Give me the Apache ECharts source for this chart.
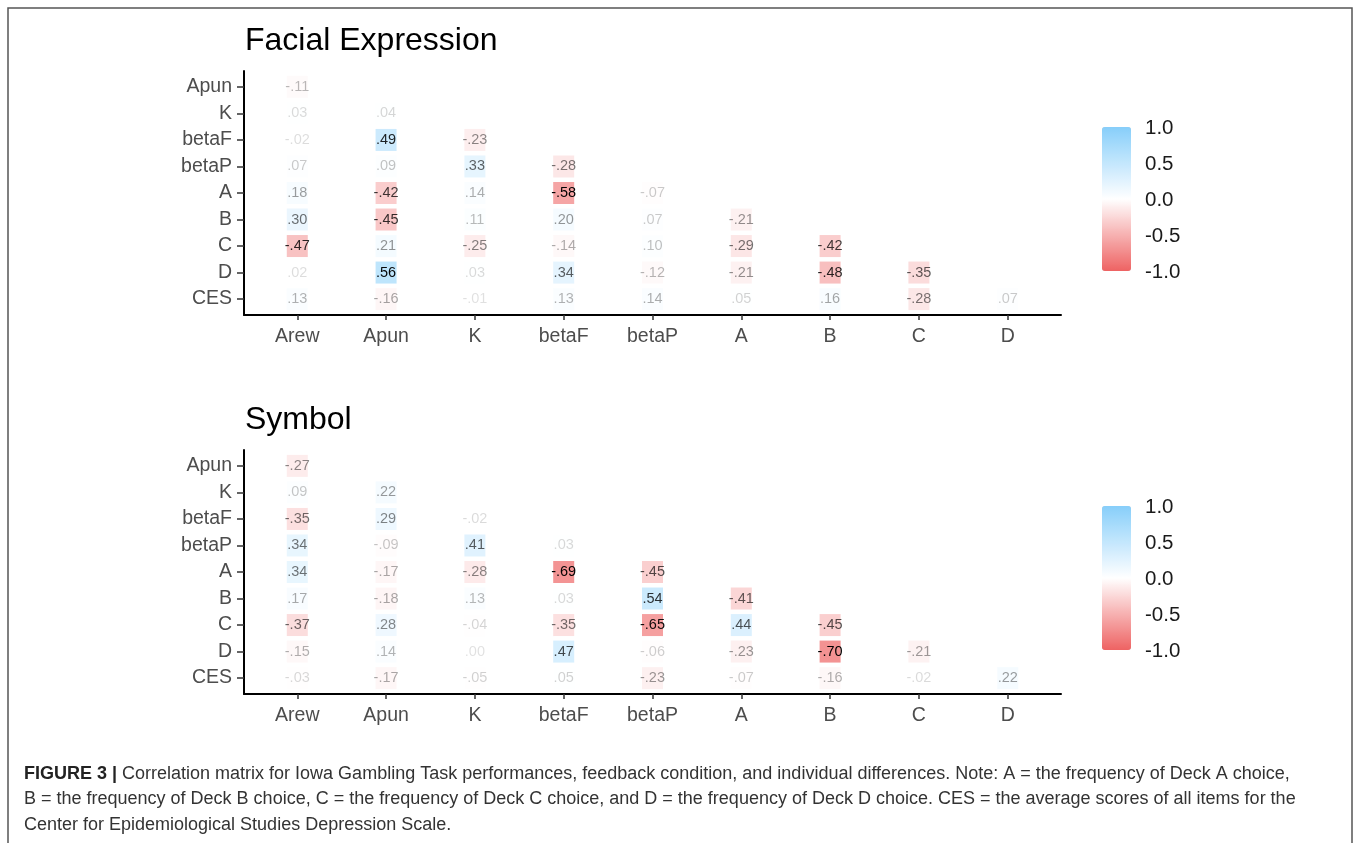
<!DOCTYPE html>
<html>
<head>
<meta charset="utf-8">
<script src="https://cdn.jsdelivr.net/npm/echarts@6/dist/echarts.min.js"></script>
<style>
  html, body { margin: 0; padding: 0; background: #fff; }
  #corrChart { width: 1358px; height: 843px; }
</style>
</head>
<body>
<div id="corrChart"></div>
<script>
// columns (x) and rows (y) of the lower triangle
var colLabels = ['Arew', 'Apun', 'K', 'betaF', 'betaP', 'A', 'B', 'C', 'D'];
var rowLabels = ['Apun', 'K', 'betaF', 'betaP', 'A', 'B', 'C', 'D', 'CES'];
var legendTicks = [1.0, 0.5, 0.0, -0.5, -1.0];

// Facial Expression, row by row (row i has i+1 values)
var facialValues = [
    [-0.11],
    [0.03, 0.04],
    [-0.02, 0.49, -0.23],
    [0.07, 0.09, 0.33, -0.28],
    [0.18, -0.42, 0.14, -0.58, -0.07],
    [0.30, -0.45, 0.11, 0.20, 0.07, -0.21],
    [-0.47, 0.21, -0.25, -0.14, 0.10, -0.29, -0.42],
    [0.02, 0.56, 0.03, 0.34, -0.12, -0.21, -0.48, -0.35],
    [0.13, -0.16, -0.01, 0.13, 0.14, 0.05, 0.16, -0.28, 0.07]
];

// Symbol
var symbolValues = [
    [-0.27],
    [0.09, 0.22],
    [-0.35, 0.29, -0.02],
    [0.34, -0.09, 0.41, 0.03],
    [0.34, -0.17, -0.28, -0.69, -0.45],
    [0.17, -0.18, 0.13, 0.03, 0.54, -0.41],
    [-0.37, 0.28, -0.04, -0.35, -0.65, 0.44, -0.45],
    [-0.15, 0.14, 0.00, 0.47, -0.06, -0.23, -0.70, -0.21],
    [-0.03, -0.17, -0.05, 0.05, -0.23, -0.07, -0.16, -0.02, 0.22]
];

var FONT = 'Liberation Sans, Arial, sans-serif';
var lowColor = '#EE6363', midColor = '#FFFFFF', highColor = '#87CEFA';

function fmt(v) {
    return v.toFixed(2).replace('0.', '.');
}

// build scatter points; label box and text fade with |r| (geom_label alpha)
function buildPoints(rows) {
    var all = [];
    rows.forEach(function (r) { r.forEach(function (v) { all.push(Math.abs(v)); }); });
    var lo = Math.min.apply(null, all), hi = Math.max.apply(null, all);
    var pts = [];
    rows.forEach(function (r, ri) {
        r.forEach(function (v, ci) {
            var a = 0.12 + 0.88 * (Math.abs(v) - lo) / (hi - lo);
            pts.push({
                value: [ci, ri, v],
                itemStyle: { opacity: a }
            });
        });
    });
    return pts;
}

var panels = [
    { title: 'Facial Expression', values: facialValues, top: 71, titleTop: 25 },
    { title: 'Symbol', values: symbolValues, top: 450, titleTop: 404 }
];
var gridLeft = 244, gridW = 817, gridH = 244;
var barX = 1102, barW = 29, barH = 144;

var option = {
    animation: false,
    title: [],
    grid: [],
    xAxis: [],
    yAxis: [],
    visualMap: [],
    series: [],
    graphic: []
};

panels.forEach(function (p, i) {
    option.title.push({
        text: p.title,
        left: 245,
        top: p.titleTop,
        padding: 0,
        textStyle: { fontFamily: FONT, fontSize: 32, fontWeight: 'normal', color: '#000' }
    });
    option.grid.push({ left: gridLeft, top: p.top, width: gridW, height: gridH });
    var idx = colLabels.map(function (c, k) { return k; });
    option.xAxis.push({
        type: 'value', gridIndex: i, min: -0.6, max: 8.6,
        splitLine: { show: false },
        axisLine: { show: true, onZero: false, lineStyle: { color: '#000', width: 2 } },
        axisTick: { show: true, customValues: idx, length: 5, lineStyle: { color: '#333', width: 1.5 } },
        axisLabel: {
            customValues: idx, margin: 12, color: '#4d4d4d', fontFamily: FONT, fontSize: 19.5,
            formatter: function (v) { return colLabels[Math.round(v)]; }
        }
    });
    option.yAxis.push({
        type: 'value', gridIndex: i, min: -0.6, max: 8.6, inverse: true,
        splitLine: { show: false },
        axisLine: { show: true, onZero: false, lineStyle: { color: '#000', width: 2 } },
        axisTick: { show: true, customValues: idx, length: 7, lineStyle: { color: '#333', width: 1.5 } },
        axisLabel: {
            customValues: idx, margin: 12, color: '#4d4d4d', fontFamily: FONT, fontSize: 19.5,
            formatter: function (v) { return rowLabels[Math.round(v)]; }
        }
    });
    var barTop = p.top + 56;
    option.visualMap.push({
        type: 'continuous', seriesIndex: i, dimension: 2, min: -1, max: 1,
        calculable: false, realtime: false, show: true,
        left: barX, top: barTop, itemWidth: barW, itemHeight: barH, padding: 0,
        text: null, showLabel: false,
        inRange: { color: [lowColor, midColor, highColor] }
    });
    option.series.push({
        type: 'scatter', xAxisIndex: i, yAxisIndex: i,
        symbol: 'rect', symbolSize: [21, 22],
        data: buildPoints(p.values),
        label: {
            show: true, position: 'inside', fontFamily: FONT, fontSize: 14.5, color: '#000',
            formatter: function (d) { return fmt(d.value[2]); }
        },
        emphasis: { disabled: true }
    });
    legendTicks.forEach(function (t) {
        var y = barTop + (1 - t) / 2 * barH;
        option.graphic.push({
            type: 'text', left: 1145, top: y - 9,
            style: { text: t.toFixed(1), fontFamily: FONT, fontSize: 20.5, fill: '#1a1a1a' }
        });
        if (t !== 1 && t !== -1 && t !== 0) {
            option.graphic.push({ type: 'line', shape: { x1: barX, y1: y, x2: barX + 5, y2: y }, style: { stroke: '#fff', lineWidth: 1 } });
            option.graphic.push({ type: 'line', shape: { x1: barX + barW - 5, y1: y, x2: barX + barW, y2: y }, style: { stroke: '#fff', lineWidth: 1 } });
        }
    });
});

// frame and caption
option.graphic.push({
    type: 'rect', shape: { x: 8, y: 8, width: 1344, height: 860 },
    style: { fill: 'none', stroke: '#555', lineWidth: 1.5 }, silent: true
});
var captionLines = [
    '{b|FIGURE 3 |} Correlation matrix for Iowa Gambling Task performances, feedback condition, and individual differences. Note: A = the frequency of Deck A choice,',
    'B = the frequency of Deck B choice, C = the frequency of Deck C choice, and D = the frequency of Deck D choice. CES = the average scores of all items for the',
    'Center for Epidemiological Studies Depression Scale.'
];
captionLines.forEach(function (line, k) {
    option.graphic.push({
        type: 'text', left: 24, top: 765 + k * 25.5,
        style: {
            text: line, fontFamily: FONT, fontSize: 18, fill: '#333',
            rich: { b: { fontFamily: FONT, fontSize: 18, fontWeight: 'bold', fill: '#222' } }
        }
    });
});

var chart = echarts.init(document.getElementById('corrChart'));
chart.setOption(option);
</script>
</body>
</html>
